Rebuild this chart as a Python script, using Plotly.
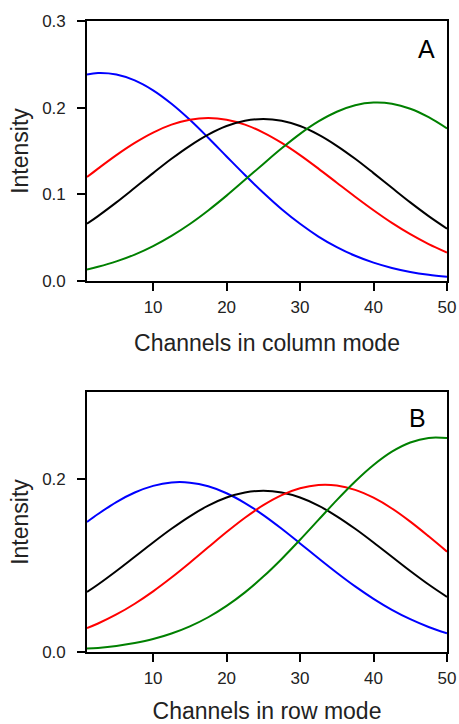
import plotly.graph_objects as go

# Channel positions where values were read
x_read = [1, 2.5, 5, 7.5, 10, 12.5, 15, 17.5, 20, 22.5, 25, 27.5, 30,
          32.5, 35, 37.5, 40, 42.5, 45, 47.5, 50]

# ---- Panel A (column mode) ----
a_blue = [0.2383, 0.2400, 0.2383, 0.2315, 0.2200, 0.2045, 0.1860, 0.1653, 0.1437, 0.1223, 0.1018,
          0.0828, 0.0660, 0.0513, 0.0391, 0.0291, 0.0212, 0.0151, 0.0105, 0.0072, 0.0048]
a_red = [0.1200, 0.1297, 0.1453, 0.1594, 0.1713, 0.1804, 0.1861, 0.1880, 0.1861, 0.1804, 0.1713,
         0.1594, 0.1453, 0.1297, 0.1134, 0.0972, 0.0816, 0.0670, 0.0540, 0.0426, 0.0329]
a_black = [0.0660, 0.0749, 0.0907, 0.1075, 0.1245, 0.1410, 0.1560, 0.1689, 0.1788, 0.1849, 0.1870,
           0.1849, 0.1788, 0.1689, 0.1560, 0.1410, 0.1245, 0.1075, 0.0907, 0.0749, 0.0604]
a_green = [0.0133, 0.0164, 0.0226, 0.0305, 0.0403, 0.0521, 0.0658, 0.0814, 0.0985, 0.1167, 0.1351,
           0.1531, 0.1698, 0.1841, 0.1953, 0.2028, 0.2059, 0.2046, 0.1988, 0.1890, 0.1760]

# ---- Panel B (row mode) ----
b_blue = [0.1500, 0.1592, 0.1730, 0.1840, 0.1917, 0.1956, 0.1954, 0.1912, 0.1832, 0.1719, 0.1580,
          0.1422, 0.1253, 0.1082, 0.0915, 0.0757, 0.0614, 0.0487, 0.0379, 0.0289, 0.0215]
b_black = [0.0692, 0.0779, 0.0935, 0.1099, 0.1264, 0.1422, 0.1566, 0.1689, 0.1782, 0.1840, 0.1860,
           0.1840, 0.1782, 0.1689, 0.1566, 0.1422, 0.1264, 0.1099, 0.0935, 0.0779, 0.0636]
b_red = [0.0276, 0.0329, 0.0433, 0.0557, 0.0700, 0.0859, 0.1030, 0.1208, 0.1384, 0.1549, 0.1694,
         0.1810, 0.1889, 0.1927, 0.1921, 0.1871, 0.1780, 0.1656, 0.1504, 0.1335, 0.1158]
b_green = [0.0040, 0.0047, 0.0069, 0.0103, 0.0149, 0.0213, 0.0296, 0.0401, 0.0532, 0.0688, 0.0870,
           0.1074, 0.1295, 0.1524, 0.1753, 0.1968, 0.2158, 0.2312, 0.2418, 0.2470, 0.2469]

x_ticks = [10, 20, 30, 40, 50]
a_y_ticks = [0.0, 0.1, 0.2, 0.3]
b_y_ticks = [0.0, 0.2]

BLUE = "#0000ff"
RED = "#ff0000"
BLACK = "#000000"
GREEN = "#008000"

FONT = "Arial, Liberation Sans, sans-serif"

fig = go.Figure()

def add(y, color, xa, ya):
    fig.add_trace(go.Scatter(x=x_read, y=y, mode="lines", xaxis=xa, yaxis=ya,
                             line=dict(color=color, width=2, shape="spline", smoothing=1.0),
                             showlegend=False, hoverinfo="skip"))

add(a_blue, BLUE, "x", "y")
add(a_red, RED, "x", "y")
add(a_black, BLACK, "x", "y")
add(a_green, GREEN, "x", "y")

add(b_blue, BLUE, "x2", "y2")
add(b_black, BLACK, "x2", "y2")
add(b_red, RED, "x2", "y2")
add(b_green, GREEN, "x2", "y2")

W, H = 459, 724
xd = [87 / W, 447 / W]
yd_top = [(H - 281) / H, (H - 21) / H]
yd_bot = [(H - 652) / H, (H - 392) / H]

axis_common = dict(showline=True, linecolor="black", linewidth=1.6, mirror=True,
                   ticks="outside", ticklen=8, tickwidth=1.6, tickcolor="black",
                   showgrid=False, zeroline=False, automargin=False,
                   tickfont=dict(family=FONT, size=17, color="#222"))

TFONT = dict(family=FONT, size=23, color="#222")

fig.update_layout(
    width=W, height=H,
    margin=dict(l=0, r=0, t=0, b=0),
    paper_bgcolor="white", plot_bgcolor="white",
    xaxis=dict(domain=xd, anchor="y", range=[1, 50], tickvals=x_ticks,
               ticklabelstandoff=2,
               title=dict(text="Channels in column mode", standoff=19, font=TFONT),
               **axis_common),
    yaxis=dict(domain=yd_top, anchor="x", range=[0, 0.3], tickvals=a_y_ticks,
               tickformat=".1f", ticklabelstandoff=8,
               title=dict(text="Intensity", standoff=7, font=TFONT),
               **axis_common),
    xaxis2=dict(domain=xd, anchor="y2", range=[1, 50], tickvals=x_ticks,
                ticklabelstandoff=2,
                title=dict(text="Channels in row mode", standoff=19, font=TFONT),
                **axis_common),
    yaxis2=dict(domain=yd_bot, anchor="x2", range=[0, 0.3], tickvals=b_y_ticks,
                tickformat=".1f", ticklabelstandoff=8,
                title=dict(text="Intensity", standoff=7, font=TFONT),
                **axis_common),
    annotations=[
        dict(text="A", x=426.5 / W, y=(H - 49) / H, xref="paper", yref="paper",
             showarrow=False, xanchor="center", yanchor="middle",
             font=dict(family=FONT, size=25, color="black")),
        dict(text="B", x=417 / W, y=(H - 417.5) / H, xref="paper", yref="paper",
             showarrow=False, xanchor="center", yanchor="middle",
             font=dict(family=FONT, size=25, color="black")),
    ],
)

fig.write_html("out.html")
